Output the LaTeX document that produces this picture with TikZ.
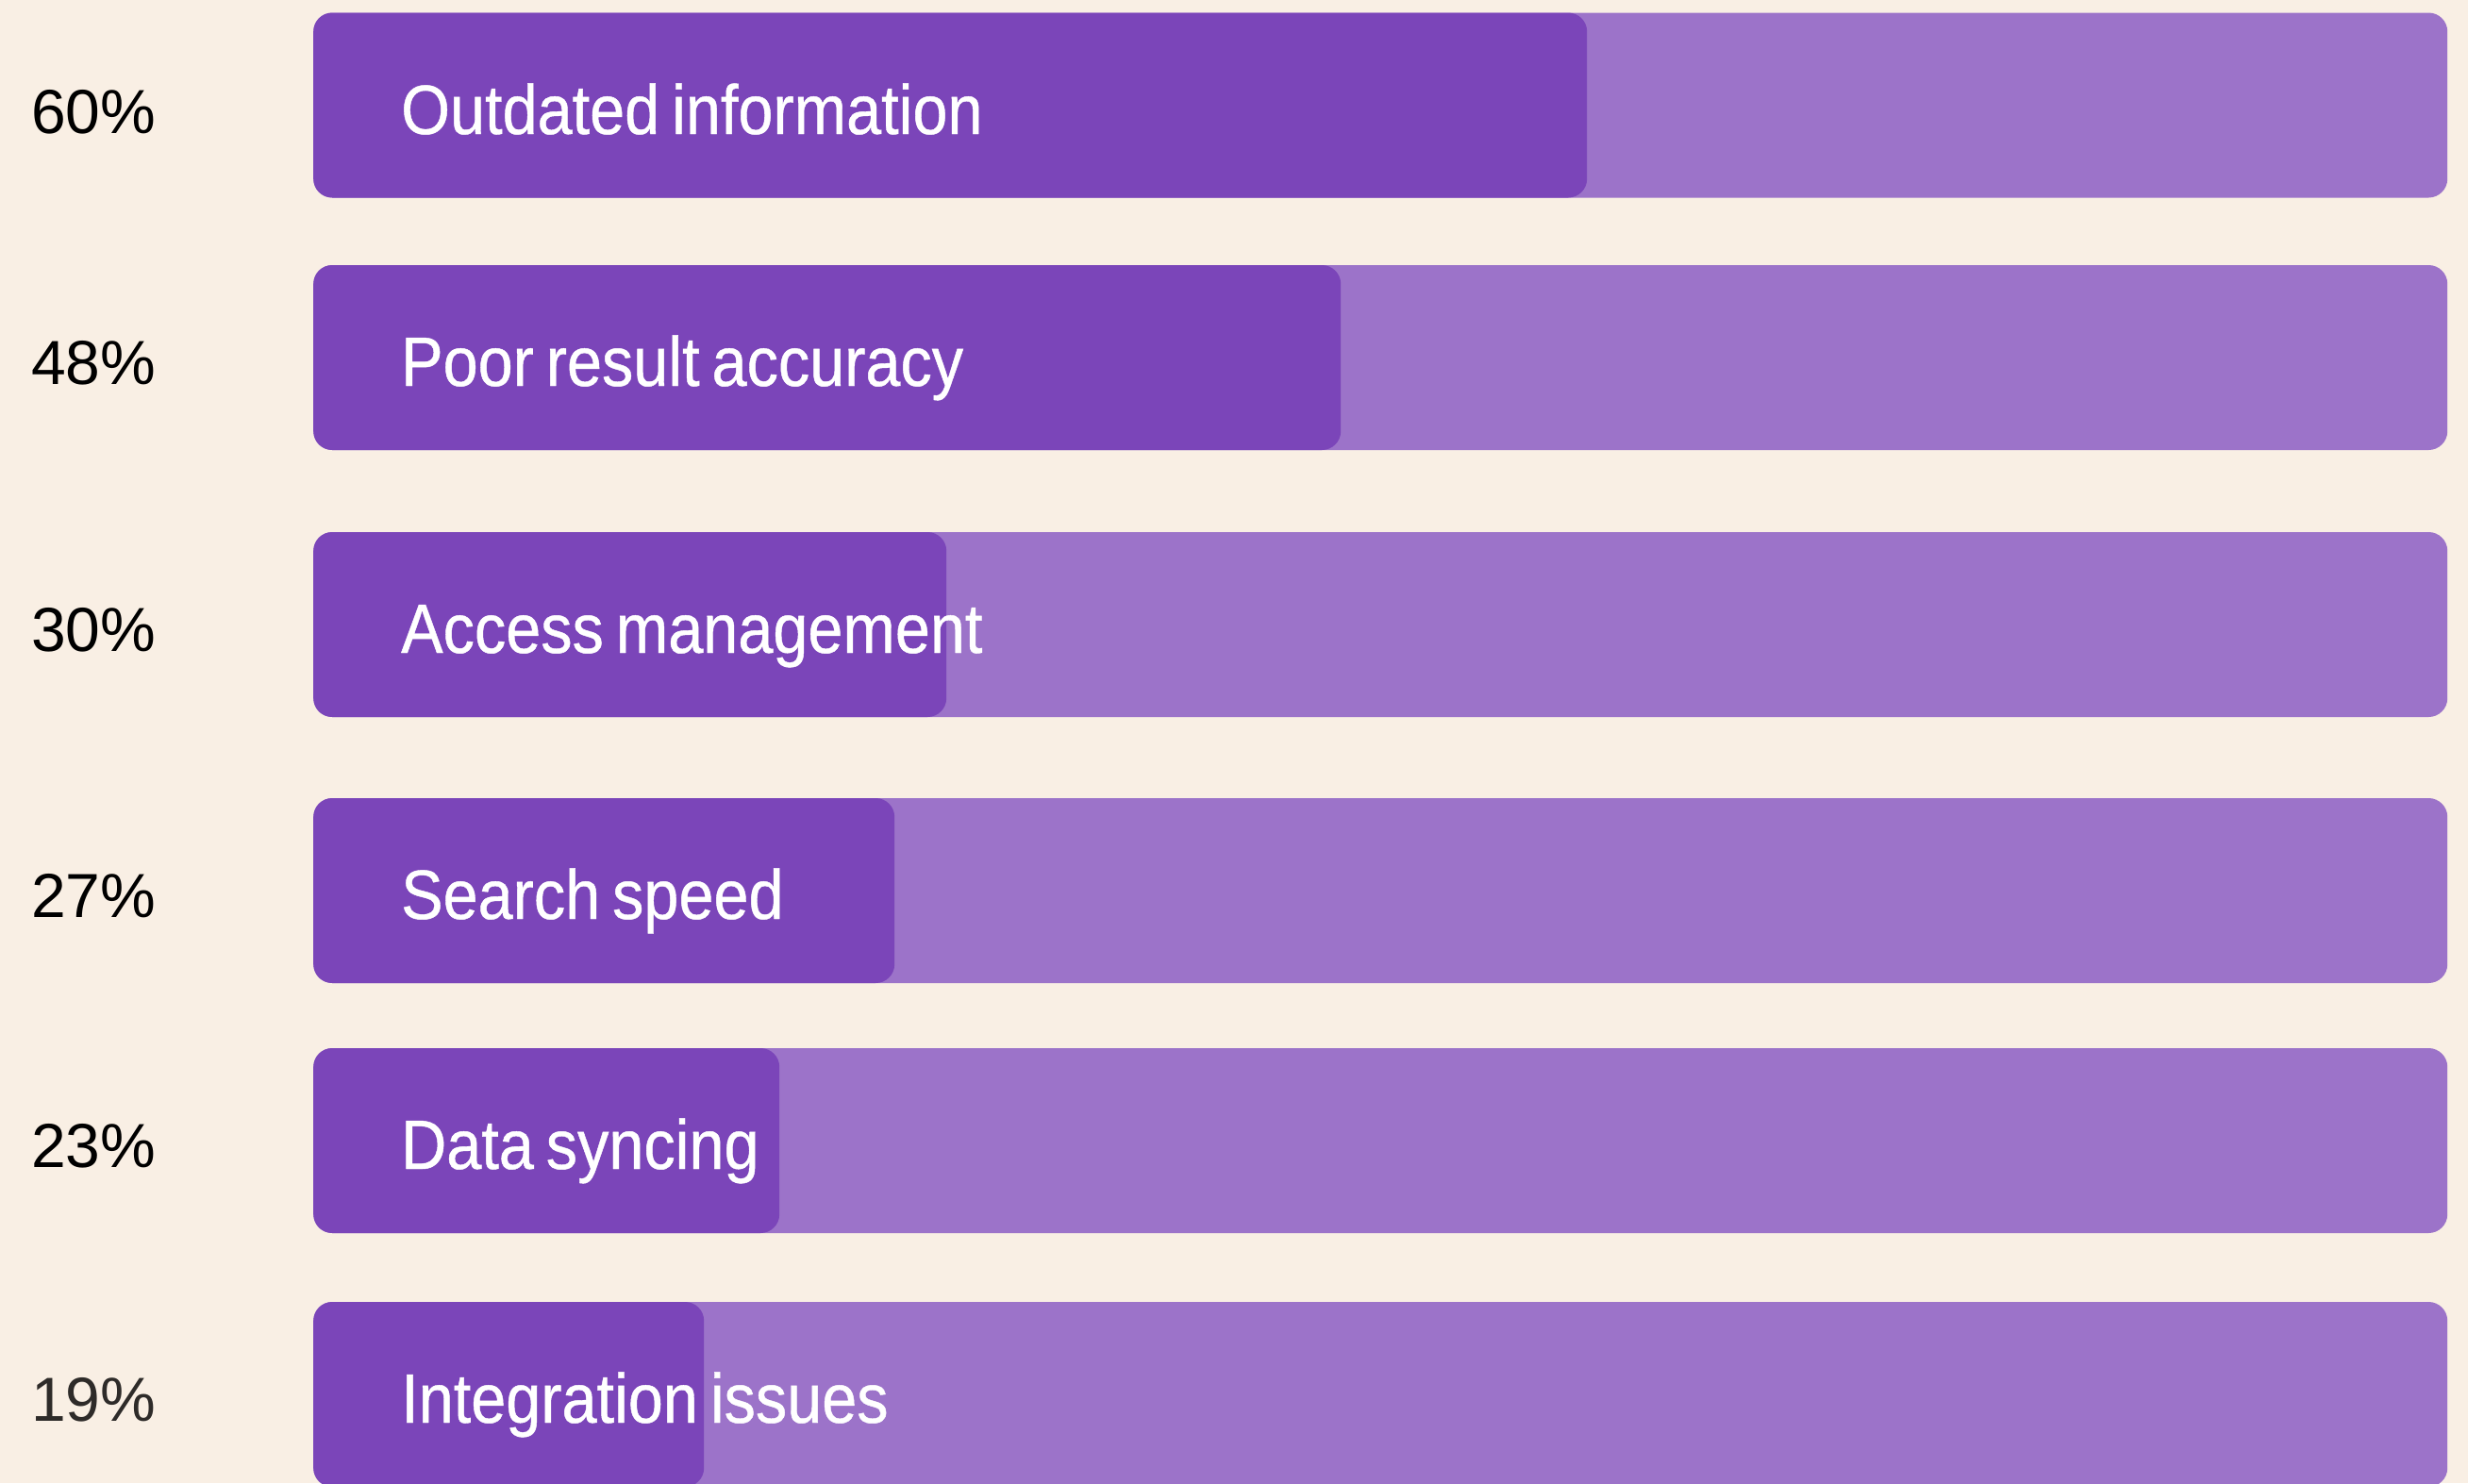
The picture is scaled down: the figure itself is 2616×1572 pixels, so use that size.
\documentclass[tikz,border=0pt]{standalone}
\usepackage{fontspec}
\setmainfont{Liberation Sans}
\newfontfamily\barfont[FakeStretch=0.9,FakeBold=0.6,WordSpace=0.7]{Liberation Sans}
\definecolor{cream}{HTML}{F9EFE4}
\definecolor{track}{HTML}{9C73C9}
\definecolor{barfill}{HTML}{7B45B9}
\definecolor{pctgray}{HTML}{2E2B29}

\begin{document}
\begin{tikzpicture}[x=1pt,y=-1pt]

      \fill[cream] (0,0) rectangle (2616,1572);
      \useasboundingbox (0,0) rectangle (2616,1572);

      % full tracks
      \begin{scope}[every node/.style={anchor=west, fill=track, rounded corners=20pt,
          minimum width=2262pt, minimum height=196pt, inner sep=0pt}]
        \node (t1) at (332,111.5) {};
        \node (t2) at (332,379)   {};
        \node (t3) at (332,662)   {};
        \node (t4) at (332,944)   {};
        \node (t5) at (332,1209)  {};
        \node (t6) at (332,1478)  {};
      \end{scope}

      % share bars
      \begin{scope}[every node/.style={anchor=west, fill=barfill, rounded corners=20pt,
          minimum height=196pt, inner sep=0pt}]
        \node[minimum width=1350pt] (b1) at (t1.west) {};
        \node[minimum width=1089pt] (b2) at (t2.west) {};
        \node[minimum width=671pt]  (b3) at (t3.west) {};
        \node[minimum width=616pt]  (b4) at (t4.west) {};
        \node[minimum width=494pt]  (b5) at (t5.west) {};
        \node[minimum width=414pt]  (b6) at (t6.west) {};
      \end{scope}

      \begin{scope}[every node/.style={anchor=base west, text=white, inner sep=0pt,
          font=\barfont\fontsize{74}{78}\selectfont}]
        \node (l1) at (425,142)  {Outdated information};
        \node (l2) at (425,409)  {Poor result accuracy};
        \node (l3) at (425,692)  {Access management};
        \node (l4) at (425,974)  {Search speed};
        \node (l5) at (425,1239) {Data syncing};
        \node (l6) at (425,1508) {Integration issues};
      \end{scope}

      \begin{scope}[every node/.style={anchor=base west, text=black, inner sep=0pt,
          font=\fontsize{66}{70}\selectfont}]
        \node (p1) at (33,141)  {60\%};
        \node (p2) at (33,407)  {48\%};
        \node (p3) at (33,690)  {30\%};
        \node (p4) at (33,972)  {27\%};
        \node (p5) at (33,1237) {23\%};
        \node[text=pctgray] (p6) at (33,1506) {19\%};
      \end{scope}

    \end{tikzpicture}
\end{document}
